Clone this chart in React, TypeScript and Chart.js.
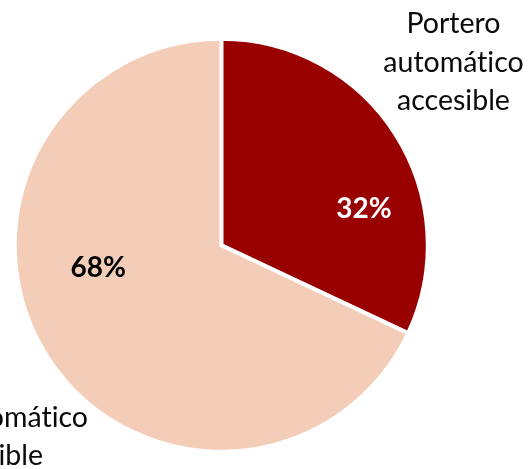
import React, { useEffect, useRef } from "react";
import { Chart, registerables } from "chart.js";

Chart.register(...registerables);

const categories = ["Portero automático accesible", "No portero automático accesible"];
const values = [32, 68];
const percentLabels = ["32%", "68%"];
const sliceColors = ["#990000", "#F3CDB7"];
const percentColors = ["#FFFFFF", "#000000"];

const FONT = "Lato, 'Open Sans', sans-serif";

const labelsPlugin = {
  id: "pieLabels",
  afterDatasetsDraw(chart: any) {
    const ctx = chart.ctx;
    const meta = chart.getDatasetMeta(0);
    // polar placement of the percent labels: [angle deg clockwise from top, radius fraction]
    const polar = [
      [75.7, 0.713],
      [259.6, 0.606],
    ];
    ctx.save();
    try {
      (ctx as any).textRendering = "optimizeSpeed";
    } catch (e) {}
    meta.data.forEach((arc: any, i: number) => {
      const { x, y, outerRadius } = arc.getProps(["x", "y", "outerRadius"], true);
      const a = (polar[i][0] * Math.PI) / 180;
      const r = outerRadius * polar[i][1];
      ctx.font = `bold 28px ${FONT}`;
      ctx.fillStyle = percentColors[i];
      ctx.textAlign = "center";
      ctx.textBaseline = "middle";
      ctx.fillText(percentLabels[i], x + r * Math.sin(a), y - r * Math.cos(a));
    });

    ctx.font = `28.5px ${FONT}`;
    ctx.fillStyle = "#0A0A0A";
    ctx.textBaseline = "alphabetic";
    // top-right category label
    const top = ["Portero", "automático", "accesible"];
    ctx.textAlign = "center";
    top.forEach((t, k) => ctx.fillText(t, 453.5, 33 + k * 38.5));
    // bottom-left category label (mostly outside the canvas)
    ctx.textAlign = "right";
    ctx.fillText("No portero automático", 88, 427);
    ctx.fillText("accesible", 43, 465);
    ctx.restore();
  },
};

export default function App() {
  const ref = useRef<HTMLCanvasElement | null>(null);
  useEffect(() => {
    if (!ref.current) return;
    const chart = new Chart(ref.current, {
      type: "pie",
      data: {
        labels: categories,
        datasets: [
          {
            data: values,
            backgroundColor: sliceColors,
            borderColor: "#FFFFFF",
            borderWidth: 4,
            borderJoinStyle: "miter",
          } as any,
        ],
      },
      options: {
        responsive: false,
        animation: false,
        layout: { padding: { left: 12.8, top: 36.8, right: 101.2, bottom: 15.2 } },
        plugins: {
          legend: { display: false },
          tooltip: { enabled: false },
        },
      },
      plugins: [labelsPlugin],
    });
    return () => chart.destroy();
  }, []);
  return (
    <div style={{ position: "absolute", left: 0, top: 0, width: 531, height: 469, background: "#fff" }}>
      <canvas ref={ref} width={531} height={469} style={{ width: 531, height: 469 }} />
    </div>
  );
}
